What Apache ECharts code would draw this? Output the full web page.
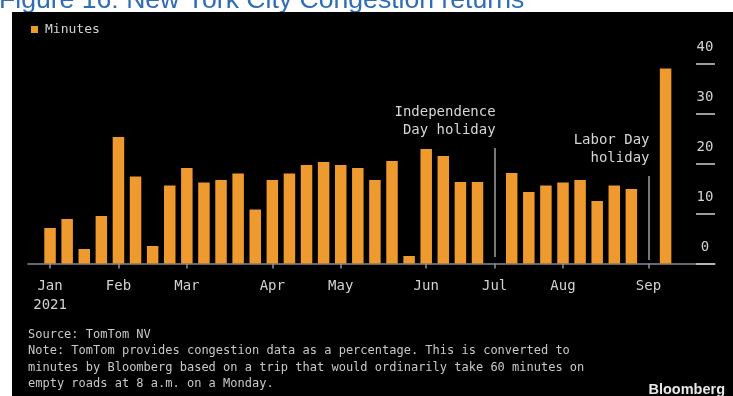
<!DOCTYPE html>
<html>
<head>
<meta charset="utf-8">
<script src="https://cdn.jsdelivr.net/npm/echarts@6/dist/echarts.min.js"></script>
<style>
  html, body { margin: 0; padding: 0; background: #ffffff; }
  #chart { width: 733px; height: 396px; }
</style>
</head>
<body>
<div id="chart"></div>
<script>
// Weekly congestion in New York City, 2021 (Mondays, 8 a.m.)
const weeks = [
  '2021-01-04', '2021-01-11', '2021-01-18', '2021-01-25',
  '2021-02-01', '2021-02-08', '2021-02-15', '2021-02-22',
  '2021-03-01', '2021-03-08', '2021-03-15', '2021-03-22', '2021-03-29',
  '2021-04-05', '2021-04-12', '2021-04-19', '2021-04-26',
  '2021-05-03', '2021-05-10', '2021-05-17', '2021-05-24', '2021-05-31',
  '2021-06-07', '2021-06-14', '2021-06-21', '2021-06-28',
  '2021-07-05', '2021-07-12', '2021-07-19', '2021-07-26',
  '2021-08-02', '2021-08-09', '2021-08-16', '2021-08-23', '2021-08-30',
  '2021-09-06', '2021-09-13'
];

// Extra minutes on a 60-minute trip; null where the Monday was a holiday
const minutes = [
  7.1, 8.9, 2.9, 9.5,
  25.3, 17.4, 3.5, 15.6,
  19.1, 16.2, 16.7, 18.0, 10.8,
  16.7, 18.0, 19.7, 20.3,
  19.7, 19.1, 16.7, 20.5, 1.5,
  22.9, 21.5, 16.3, 16.3,
  null, 18.1, 14.3, 15.6,
  16.2, 16.7, 12.5, 15.6, 14.9,
  null, 39.0
];

const monthNames = ['Jan', 'Feb', 'Mar', 'Apr', 'May', 'Jun', 'Jul', 'Aug', 'Sep', 'Oct', 'Nov', 'Dec'];
const yTicks = [0, 10, 20, 30, 40];

const holidayWeeks = ['2021-07-05', '2021-09-06'];
const holidayNames = ['Independence\nDay holiday', 'Labor Day\nholiday'];

const seriesName = 'Minutes';
const titleText = 'Figure 16: New York City Congestion returns';
const sourceLines = [
  'Source: TomTom NV',
  'Note: TomTom provides congestion data as a percentage. This is converted to',
  'minutes by Bloomberg based on a trip that would ordinarily take 60 minutes on',
  'empty roads at 8 a.m. on a Monday.'
];
const brand = 'Bloomberg';

// First week of each month gets a tick and a month label
const monthStarts = [];
weeks.forEach((d, i) => {
  const m = d.slice(5, 7);
  if (i === 0 || weeks[i - 1].slice(5, 7) !== m) monthStarts.push(i);
});

const barData = weeks.map((d, i) => [i, minutes[i]]);

const MONO = '"DejaVu Sans Mono", "Liberation Mono", monospace';
const LABEL = '#d2d2d2';

const chart = echarts.init(document.getElementById('chart'), null, { renderer: 'canvas' });

const option = {
  backgroundColor: '#ffffff',
  animation: false,
  grid: { left: 28, right: 18, top: 63.5, bottom: 132.5 },
  legend: {
    data: [seriesName],
    left: 26,
    top: 18,
    icon: 'rect',
    itemWidth: 7,
    itemHeight: 7,
    textStyle: { color: LABEL, fontFamily: MONO, fontSize: 13, padding: [0, 0, 0, 2] }
  },
  xAxis: {
    type: 'value',
    min: -1.29,
    max: 38.89,
    splitLine: { show: false },
    axisLine: { show: true, onZero: false, lineStyle: { color: '#868c94', width: 1.5 } },
    axisTick: {
      show: true,
      customValues: monthStarts,
      length: 5,
      lineStyle: { color: '#8a96a3', width: 1.5 }
    },
    axisLabel: {
      customValues: monthStarts,
      margin: 13,
      color: LABEL,
      fontFamily: MONO,
      fontSize: 14,
      lineHeight: 19,
      formatter: (v) => {
        const d = weeks[Math.round(v)];
        const name = monthNames[parseInt(d.slice(5, 7), 10) - 1];
        return Math.round(v) === 0 ? name + '\n' + d.slice(0, 4) : name;
      }
    }
  },
  yAxis: {
    type: 'value',
    position: 'right',
    min: 0,
    max: 40,
    interval: 10,
    splitLine: { show: false },
    axisLine: { show: false, onZero: false },
    axisTick: {
      show: true,
      inside: true,
      length: 19,
      lineStyle: { color: '#cfcfcf', width: 1.5 }
    },
    axisLabel: {
      inside: true,
      margin: 10,
      align: 'center',
      verticalAlign: 'bottom',
      lineHeight: 14,
      padding: [0, 0, 9, 0],
      color: LABEL,
      fontFamily: MONO,
      fontSize: 14,
      formatter: (v) => (yTicks.indexOf(v) >= 0 ? String(v) : '')
    }
  },
  series: [{
    name: seriesName,
    type: 'bar',
    data: barData,
    barWidth: 11.5,
    itemStyle: { color: '#ef9a2e' },
    markLine: {
      silent: true,
      symbol: ['none', 'none'],
      label: { show: false },
      lineStyle: { color: '#a0a0a0', width: 1.5, type: 'solid' },
      data: [
        [{ coord: [weeks.indexOf(holidayWeeks[0]), 23.1] }, { coord: [weeks.indexOf(holidayWeeks[0]), 1.3] }],
        [{ coord: [weeks.indexOf(holidayWeeks[1]), 17.5] }, { coord: [weeks.indexOf(holidayWeeks[1]), 0.7] }]
      ]
    }
  }]
};

chart.setOption(option);

// Frame, title, holiday notes and footer, placed from the chart's own scales
function decorate() {
  const tops = [23.1, 17.5];
  const notes = holidayWeeks.map((w, k) => {
    const p = chart.convertToPixel({ gridIndex: 0 }, [weeks.indexOf(w), tops[k]]);
    return {
      type: 'text',
      z: 10,
      x: p[0] + 1,
      y: p[1] - 9,
      style: {
        text: holidayNames[k],
        fill: '#d6d6d6',
        font: '14px ' + MONO,
        align: 'right',
        verticalAlign: 'bottom',
        lineHeight: 18
      }
    };
  });

  chart.setOption({
    graphic: [
      {
        type: 'text',
        z: -20,
        x: -1,
        y: 1,
        style: {
          text: titleText,
          fill: '#2f6db5',
          font: '26.6px "Liberation Sans", Arial, sans-serif',
          verticalAlign: 'middle'
        }
      },
      {
        type: 'rect',
        z: -10,
        shape: { x: 12, y: 12, width: 733 - 12, height: 396 - 12 },
        style: { fill: '#000000' }
      },
      ...notes,
      {
        type: 'text',
        z: 10,
        x: 28,
        y: 327,
        style: {
          text: sourceLines.join('\n'),
          fill: '#c8c8c8',
          font: '12px ' + MONO,
          verticalAlign: 'top',
          lineHeight: 16.2
        }
      },
      {
        type: 'text',
        z: 10,
        x: 725,
        y: 390,
        style: {
          text: brand,
          fill: '#e8e8e8',
          font: 'bold 14.5px "Liberation Sans", Arial, sans-serif',
          align: 'right',
          verticalAlign: 'middle'
        }
      }
    ]
  });
}
decorate();
</script>
</body>
</html>
